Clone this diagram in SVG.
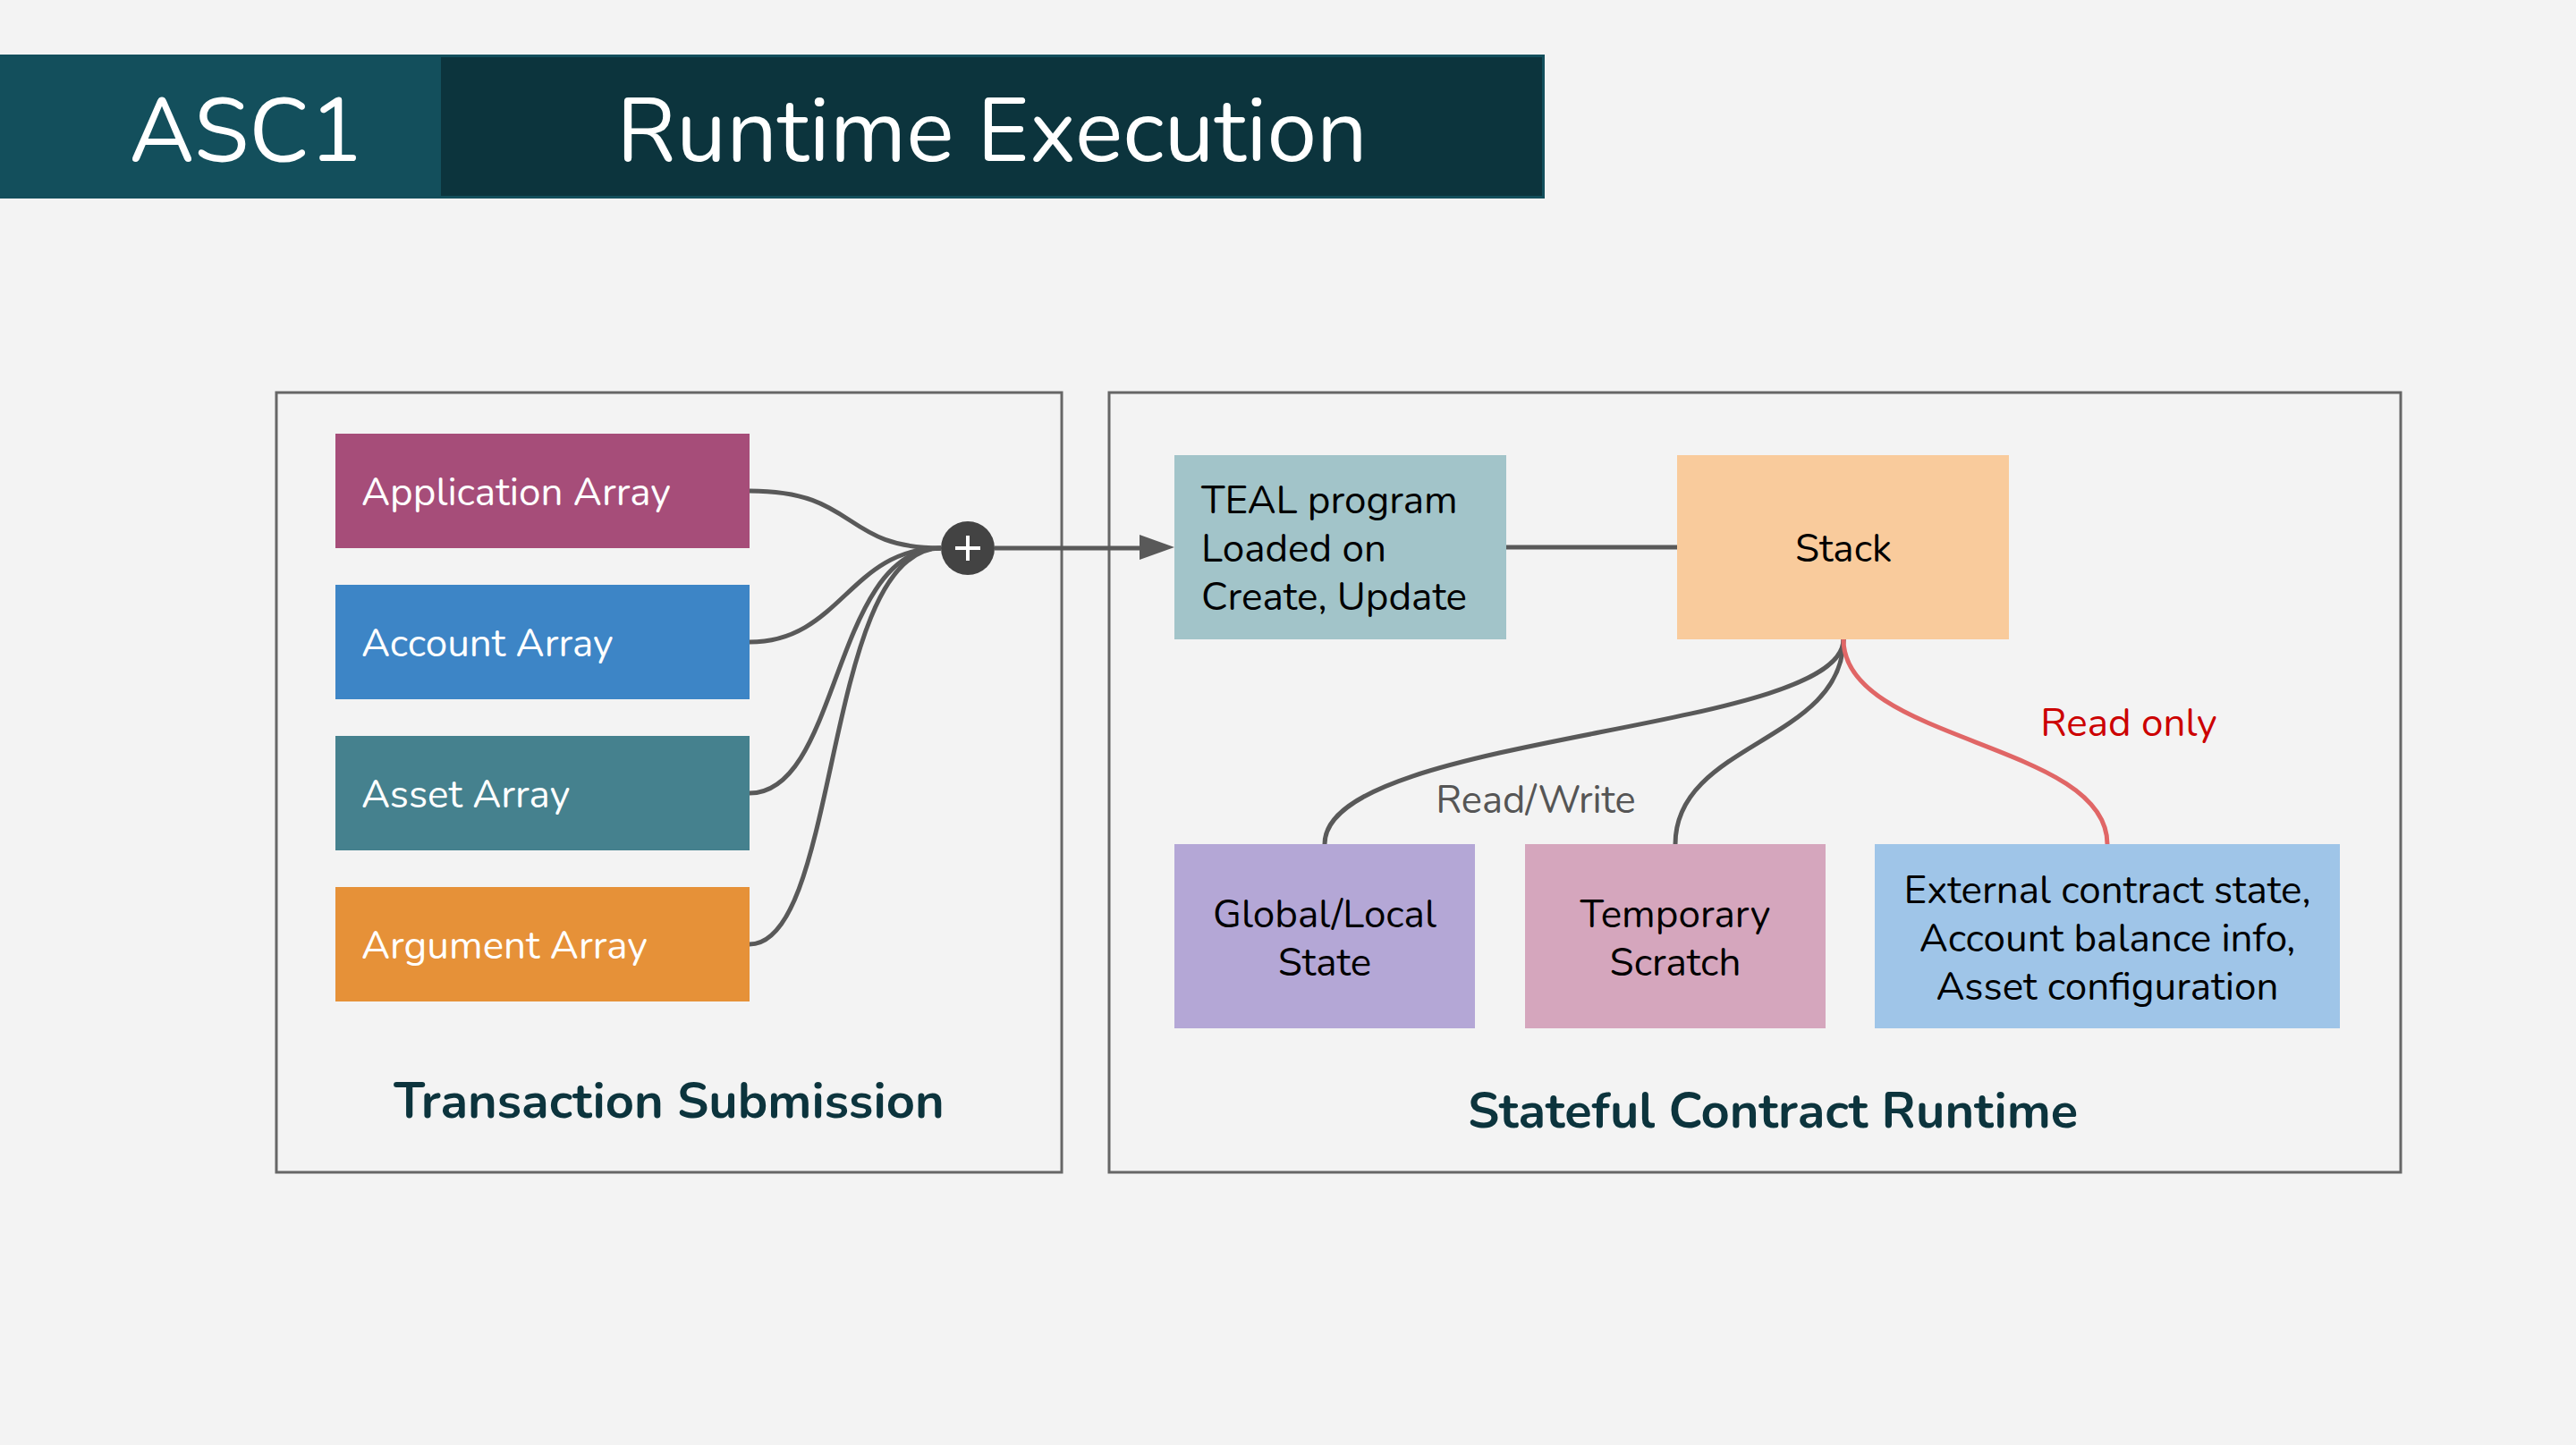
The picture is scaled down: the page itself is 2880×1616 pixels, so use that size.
<svg xmlns="http://www.w3.org/2000/svg" width="2880" height="1616" viewBox="0 0 2880 1616">
<defs>
<style>
.t{font-family:"Nunito","Open Sans","Liberation Sans",sans-serif}
.w{fill:#ffffff;font-size:44px}
.k{fill:#000000;font-size:44px}
.frame{fill:none;stroke:#666666;stroke-width:3}
.c{fill:none;stroke:#595959;stroke-width:5}
.r{fill:none;stroke:#e06666;stroke-width:5}
.ttl{fill:#0c343d;font-size:56px;font-weight:bold}
</style>
</defs>
<rect x="0" y="0" width="2880" height="1616" fill="#f3f3f3"/>
<g id="header">
<rect x="0" y="61" width="1727" height="161" fill="#134f5c"/>
<rect x="493" y="64" width="1231" height="155" fill="#0c343d"/>
<text class="t" x="275" y="180" font-size="100" fill="#ffffff" text-anchor="middle">ASC1</text>
<text class="t" x="1109" y="180" font-size="100" fill="#ffffff" text-anchor="middle">Runtime Execution</text>
</g>
<g id="transaction-submission">
<rect class="frame" x="309" y="439" width="878" height="872"/>
<text class="t ttl" x="748" y="1250" text-anchor="middle">Transaction Submission</text>
</g>
<g id="stateful-contract-runtime">
<rect class="frame" x="1240" y="439" width="1444" height="872"/>
<text class="t ttl" x="1982" y="1261" text-anchor="middle">Stateful Contract Runtime</text>
</g>
<g id="connectors">
<path class="c" d="M838,549 C960,549 940,613 1052,613"/>
<path class="c" d="M838,718 C940,718 950,613 1052,613"/>
<path class="c" d="M838,887 C940,887 930,613 1052,613"/>
<path class="c" d="M838,1056 C940,1056 920,613 1052,613"/>
<path class="c" d="M1112,613 L1278,613"/>
<path d="M1274,598 L1313,612 L1274,626 Z" fill="#595959"/>
<path class="c" d="M1684,612 L1875,612"/>
<path class="c" d="M2061,715 C2061,820 1481,820 1481,944"/>
<path class="c" d="M2061,715 C2061,830 1873,830 1873,944"/>
<path class="r" d="M2061,715 C2061,830 2356,830 2356,944"/>
<text class="t" x="1717" y="909" font-size="43.5" fill="#555555" text-anchor="middle">Read/Write</text>
<text class="t" x="2380" y="823" font-size="44" fill="#cc0000" text-anchor="middle">Read only</text>
</g>
<g id="application-array">
<rect x="375" y="485" width="463" height="128" fill="#a64d79"/>
<text class="t w" x="404" y="565">Application Array</text>
</g>
<g id="account-array">
<rect x="375" y="654" width="463" height="128" fill="#3d85c6"/>
<text class="t w" x="404" y="734">Account Array</text>
</g>
<g id="asset-array">
<rect x="375" y="823" width="463" height="128" fill="#45818e"/>
<text class="t w" x="404" y="903">Asset Array</text>
</g>
<g id="argument-array">
<rect x="375" y="992" width="463" height="128" fill="#e69138"/>
<text class="t w" x="404" y="1072">Argument Array</text>
</g>
<g id="plus">
<circle cx="1082" cy="613" r="30" fill="#434343"/>
<path d="M1068,613 H1096 M1082,599 V627" stroke="#ffffff" stroke-width="4"/>
</g>
<g id="teal-program">
<rect x="1313" y="509" width="371" height="206" fill="#a2c4c9"/>
<text class="t k" x="1343" y="574">TEAL program</text>
<text class="t k" x="1343" y="628">Loaded on</text>
<text class="t k" x="1343" y="682">Create, Update</text>
</g>
<g id="stack">
<rect x="1875" y="509" width="371" height="206" fill="#f9cb9c"/>
<text class="t k" x="2061" y="628" text-anchor="middle">Stack</text>
</g>
<g id="global-local-state">
<rect x="1313" y="944" width="336" height="206" fill="#b4a7d6"/>
<text class="t k" x="1481" y="1037" text-anchor="middle">Global/Local</text>
<text class="t k" x="1481" y="1091" text-anchor="middle">State</text>
</g>
<g id="temporary-scratch">
<rect x="1705" y="944" width="336" height="206" fill="#d5a6bd"/>
<text class="t k" x="1873" y="1037" text-anchor="middle">Temporary</text>
<text class="t k" x="1873" y="1091" text-anchor="middle">Scratch</text>
</g>
<g id="external">
<rect x="2096" y="944" width="520" height="206" fill="#9fc5e8"/>
<text class="t k" x="2356" y="1010" text-anchor="middle">External contract state,</text>
<text class="t k" x="2356" y="1064" text-anchor="middle">Account balance info,</text>
<text class="t k" x="2356" y="1118" text-anchor="middle">Asset configuration</text>
</g>
</svg>
